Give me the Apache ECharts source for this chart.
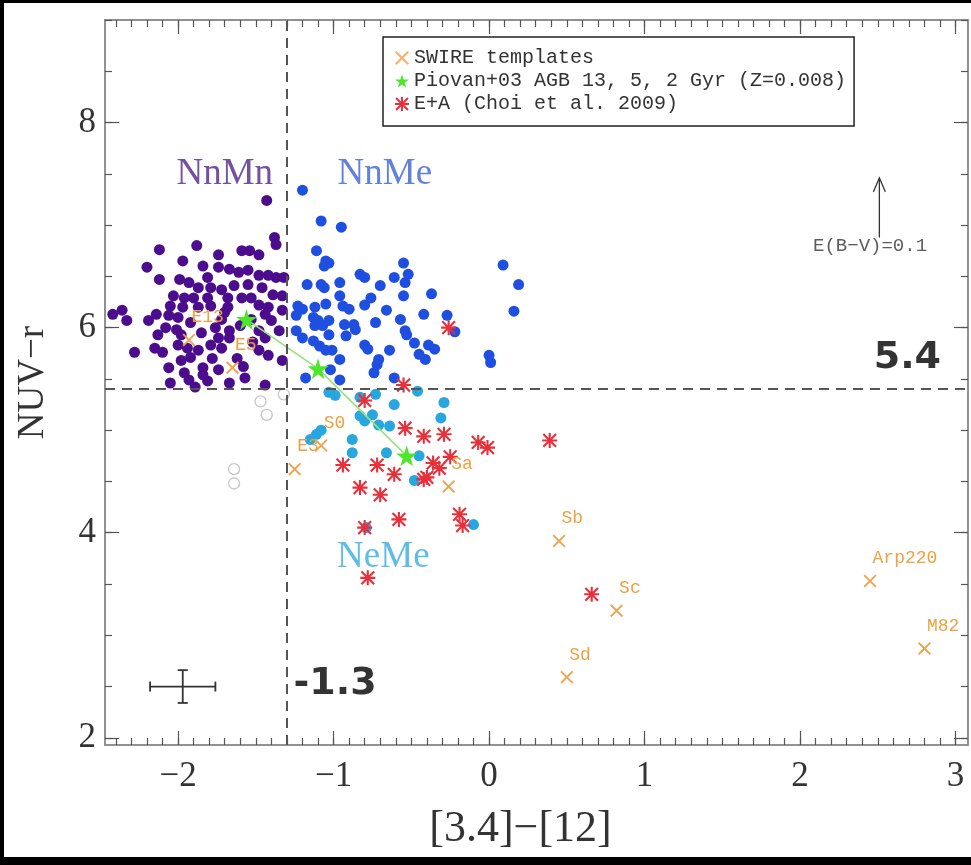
<!DOCTYPE html>
<html lang="en">
<head>
<meta charset="utf-8">
<title>NUV-r vs [3.4]-[12]</title>
<script src="https://cdn.jsdelivr.net/npm/echarts@6.0.0/dist/echarts.min.js"></script>
<style>
    html, body { margin: 0; padding: 0; background: #fff; }
    #wrap { position: relative; width: 971px; height: 865px; }
    #chart { position: absolute; left: 0; top: 0; width: 971px; height: 865px; }
    /* black frame of the scanned figure */
    #frame {
        position: absolute; left: 0; top: 0; width: 971px; height: 865px;
        box-sizing: border-box; pointer-events: none;
        border-left: 4px solid #000; border-top: 3px solid #000; border-bottom: 8px solid #000;
    }
</style>
</head>
<body>
<div id="wrap">
    <div id="chart"></div>
    <div id="frame"></div>
</div>
<script type="text/javascript">
// ---- data ----
// NnMn (purple)
var nnmn = [
    [-1.43,7.24],[-1.38,6.88],[-1.37,6.81],[-2.12,6.76],[-1.88,6.80],[-1.74,6.71],[-1.59,6.75],[-1.54,6.75],
    [-1.48,6.71],[-1.97,6.65],[-1.84,6.60],[-2.20,6.59],[-1.74,6.59],[-1.67,6.57],[-1.61,6.54],[-1.55,6.56],
    [-1.48,6.51],[-1.42,6.51],[-1.37,6.49],[-1.32,6.49],[-2.12,6.47],[-1.99,6.47],[-1.93,6.44],[-1.81,6.49],
    [-1.87,6.39],[-1.79,6.39],[-1.72,6.37],[-1.64,6.41],[-1.55,6.42],[-1.46,6.39],[-1.39,6.32],[-1.33,6.31],
    [-2.03,6.31],[-1.96,6.29],[-1.90,6.29],[-1.81,6.29],[-1.68,6.29],[-1.59,6.29],[-1.53,6.29],[-2.05,6.21],
    [-1.97,6.20],[-1.87,6.20],[-1.79,6.21],[-1.68,6.20],[-1.48,6.22],[-1.42,6.20],[-1.33,6.17],[-2.06,6.12],
    [-2.00,6.10],[-2.42,6.13],[-2.36,6.17],[-2.33,6.07],[-2.19,6.07],[-2.14,6.13],[-1.72,6.08],[-1.53,6.08],
    [-1.44,6.13],[-1.40,6.07],[-2.08,6.00],[-2.01,5.98],[-2.13,5.93],[-1.98,5.93],[-1.76,6.00],[-1.74,5.90],
    [-1.67,5.97],[-1.67,5.90],[-1.48,5.97],[-1.44,5.90],[-1.35,5.97],[-2.28,5.76],[-2.15,5.80],[-2.10,5.76],
    [-2.00,5.83],[-1.94,5.80],[-1.87,5.78],[-1.79,5.83],[-1.72,5.80],[-1.48,5.78],[-1.42,5.73],[-1.33,5.68],
    [-2.06,5.61],[-1.98,5.68],[-1.92,5.71],[-1.84,5.61],[-1.74,5.59],[-1.57,5.51],[-1.96,5.56],[-2.05,5.46],
    [-1.93,5.49],[-1.89,5.42],[-1.84,5.54],[-1.81,5.48],[-1.67,5.46],[-1.44,5.44],[-1.58,5.62],[-1.62,5.70],
    [-1.85,5.95],[-1.92,6.05],[-1.60,6.02],[-1.70,6.15],[-1.52,5.86],[-1.78,5.70]
];
// NnMe (blue)
var nnme = [
    [-1.20,7.34],[-1.08,7.04],[-0.95,6.98],[-1.11,6.75],[-1.05,6.65],[-1.03,6.63],[-1.06,6.60],[-0.83,6.52],
    [-0.80,6.49],[-0.55,6.63],[-0.52,6.52],[-0.61,6.49],[-0.54,6.44],[-1.17,6.42],[-1.08,6.42],[-1.06,6.39],
    [-0.96,6.44],[-0.70,6.41],[-0.37,6.33],[-0.55,6.31],[-0.96,6.31],[-0.76,6.29],[-0.80,6.22],[0.09,6.61],
    [0.19,6.42],[0.16,6.16],[-1.23,6.21],[-1.20,6.18],[-1.12,6.20],[-1.05,6.23],[-0.94,6.21],[-0.90,6.18],
    [-0.66,6.17],[-0.42,6.13],[-0.27,6.12],[-0.22,5.96],[-0.57,6.08],[-0.73,6.05],[-0.93,6.03],[-0.87,6.03],
    [-0.86,5.98],[-1.13,6.10],[-1.10,6.07],[-1.12,6.02],[-1.07,6.02],[-1.03,6.07],[-1.24,6.12],[-0.54,5.97],
    [-0.53,5.93],[-0.92,5.92],[-0.80,5.83],[-0.78,5.79],[-0.64,5.78],[-0.48,5.85],[-0.39,5.83],[-0.35,5.79],
    [-0.45,5.74],[-0.41,5.69],[-1.13,5.87],[-1.09,5.82],[-1.05,5.78],[-1.03,5.93],[-1.01,5.78],[-0.96,5.69],
    [-0.71,5.69],[-0.72,5.64],[-0.74,5.56],[0.00,5.73],[0.01,5.66],[-1.18,5.51],[-1.02,5.59],[-0.96,5.49],
    [-1.24,5.97],[-1.20,5.90],[-0.61,5.51]
];
// NeMe (light blue)
var neme = [
    [-1.03,5.37],[-0.99,5.34],[-0.83,5.32],[-0.73,5.35],[-0.61,5.25],[-0.46,5.38],[-0.29,5.27],[-0.31,5.12],
    [-0.83,5.14],[-0.75,5.15],[-0.80,5.09],[-0.71,5.05],[-0.64,5.04],[-0.88,4.91],[-0.88,4.78],[-0.66,4.78],
    [-0.45,4.75],[-0.48,4.51],[-1.11,4.96],[-1.15,4.91],[-1.08,5.00],[-0.10,4.08],[-0.79,4.05]
];
// open grey circles
var others = [[-1.47,5.28],[-1.43,5.15],[-1.32,5.35],[-1.64,4.62],[-1.64,4.48]];
// E+A (Choi et al. 2009)
var eaPoints = [
    [-0.26,6.00],[-0.55,5.44],[-0.80,5.29],[-0.54,5.02],[-0.42,4.94],[-0.29,4.96],[-0.07,4.88],[-0.01,4.83],
    [0.39,4.90],[-0.94,4.66],[-0.72,4.66],[-0.83,4.44],[-0.70,4.37],[-0.61,4.57],[-0.40,4.54],[-0.36,4.68],
    [-0.32,4.63],[-0.25,4.74],[-0.42,4.52],[-0.58,4.13],[-0.19,4.18],[-0.17,4.07],[-0.80,4.05],[-0.78,3.56],
    [0.66,3.40]
];
// SWIRE templates
var swireNames = ['E13', 'E5', 'E3', 'S0', 'Sa', 'Sb', 'Sc', 'Sd', 'Arp220', 'M82'];
var swireX = [-1.93, -1.65, -1.25, -1.08, -0.26, 0.45, 0.82, 0.50, 2.45, 2.80];
var swireY = [5.88, 5.61, 4.62, 4.85, 4.45, 3.92, 3.24, 2.59, 3.53, 2.87];
// Piovan+03 AGB tracks 13, 5, 2 Gyr
var piovan = [[-1.56,6.08],[-1.10,5.60],[-0.53,4.75]];
// cuts
var xCut = -1.3, yCut = 5.4;
// representative error bar [x, y, dx, dy]
var errBar = [-1.97, 2.50, 0.21, 0.16];
// reddening vector E(B-V)=0.1
var redVec = [[2.51,6.88],[2.51,7.46]];

var xMajor = [-2, -1, 0, 1, 2, 3];
var yMajor = [2, 4, 6, 8];
var xRange = [-2.47, 3.08], yRange = [1.93, 9.0];

var minorX = [], minorY = [];
for (var i = -24; i <= 30; i++) minorX.push(i / 10);
for (var j = 4; j <= 18; j++) minorY.push(j / 2);

var serif = 'Liberation Serif';
var mono = 'Liberation Mono';

var crossPath = 'path://M2 0 L10 8 L18 0 L20 2 L12 10 L20 18 L18 20 L10 12 L2 20 L0 18 L8 10 L0 2 Z';
var asterPath = 'path://M2.5 0.5 L10 8 L17.5 0.5 L19.5 2.5 L12 10 L19.5 17.5 L17.5 19.5 L10 12 L2.5 19.5 L0.5 17.5 L8 10 L0.5 2.5 Z M8.6 0 H11.4 V8.6 H20 V11.4 H11.4 V20 H8.6 V11.4 H0 V8.6 H8.6 Z';
var starPath = 'path://M50 0 L61 35 L98 35 L68 57 L79 91 L50 70 L21 91 L32 57 L2 35 L39 35 Z';

function minus(v) { return v < 0 ? '\u2212' + (-v) : String(v); }

var axisLine = { show: true, onZero: false, lineStyle: { color: '#8a8a8a', width: 1.5 } };

function xAx(pos, major, labels) {
    return {
        type: 'value', gridIndex: 0, position: pos,
        min: xRange[0], max: xRange[1],
        axisLine: axisLine, splitLine: { show: false },
        axisTick: { show: true, inside: true, length: major ? 14 : 7, customValues: major ? xMajor : minorX,
            lineStyle: { color: '#555', width: 1.2 } },
        axisLabel: labels ? { show: true, customValues: xMajor, formatter: minus, margin: 14,
            fontFamily: serif, fontSize: 35, color: '#333' } : { show: false },
        name: labels ? '[3.4]\u2212[12]' : '', nameLocation: 'middle', nameGap: 62,
        nameTextStyle: { fontFamily: serif, fontSize: 44, color: '#333', padding: [0, 32, 0, 0] }
    };
}
function yAx(pos, major, labels) {
    return {
        type: 'value', gridIndex: 0, position: pos,
        min: yRange[0], max: yRange[1],
        axisLine: axisLine, splitLine: { show: false },
        axisTick: { show: true, inside: true, length: major ? 14 : 7, customValues: major ? yMajor : minorY,
            lineStyle: { color: '#555', width: 1.2 } },
        axisLabel: labels ? { show: true, customValues: yMajor, margin: 9,
            fontFamily: serif, fontSize: 35, color: '#333' } : { show: false },
        name: labels ? 'NUV\u2212r' : '', nameLocation: 'middle', nameGap: 53, nameRotate: 90,
        nameTextStyle: { fontFamily: serif, fontSize: 37, color: '#333' }
    };
}

function textSeries(name, pt, color, size, family, weight) {
    return {
        name: name, type: 'scatter', symbolSize: 0, silent: true, z: 20,
        data: [{ value: pt, name: name }],
        label: { show: true, position: 'inside', formatter: '{b}', color: color,
            fontFamily: family, fontSize: size, fontWeight: weight || 'normal' }
    };
}

var swireData = swireNames.map(function (n, k) { return { name: n, value: [swireX[k], swireY[k]] }; });

var chart = echarts.init(document.getElementById('chart'), null, { renderer: 'canvas' });

var option = {
    animation: false,
    backgroundColor: '#fff',
    grid: { left: 105, right: 3, top: 20, bottom: 120, containLabel: false },
    xAxis: [xAx('bottom', true, true), xAx('bottom', false, false), xAx('top', true, false), xAx('top', false, false)],
    yAxis: [yAx('left', true, true), yAx('left', false, false), yAx('right', true, false), yAx('right', false, false)],
    legend: {
        left: 383, top: 37, orient: 'vertical',
        padding: [11, 8, 12, 12], itemGap: 3, itemWidth: 14, itemHeight: 14,
        borderColor: '#222', borderWidth: 1.5, backgroundColor: '#fff',
        textStyle: { fontFamily: mono, fontSize: 20, color: '#333' },
        data: [
            { name: 'SWIRE templates', icon: crossPath, itemStyle: { color: '#f6b070' } },
            { name: 'Piovan+03 AGB 13, 5, 2 Gyr (Z=0.008)', icon: starPath, itemStyle: { color: '#4ee62a' } },
            { name: 'E+A (Choi et al. 2009)', icon: asterPath, itemStyle: { color: '#e8303a' } }
        ]
    },
    series: [
        {
            name: 'NnMn', type: 'scatter', data: nnmn, symbol: 'circle', symbolSize: 11,
            itemStyle: { color: '#4b0d8e', opacity: 1 },
            markLine: {
                silent: true, symbol: 'none', label: { show: false },
                lineStyle: { color: '#555', width: 2, type: [10, 7] },
                data: [{ xAxis: xCut }, { yAxis: yCut }]
            }
        },
        { name: 'NnMe', type: 'scatter', data: nnme, symbol: 'circle', symbolSize: 11,
            itemStyle: { color: '#1f4fe0', opacity: 1 } },
        { name: 'NeMe', type: 'scatter', data: neme, symbol: 'circle', symbolSize: 11,
            itemStyle: { color: '#27a6df', opacity: 1 } },
        { name: 'other', type: 'scatter', data: others, symbol: 'circle', symbolSize: 11,
            itemStyle: { color: 'rgba(255,255,255,0)', borderColor: '#b8b8b8', borderWidth: 1.3 } },
        { name: 'Piovan track', type: 'line', data: piovan, symbol: 'none', silent: true, z: 3,
            lineStyle: { color: '#98e27a', width: 1.6 } },
        { name: 'E+A (Choi et al. 2009)', type: 'scatter', data: eaPoints, symbol: asterPath, symbolSize: 15, z: 4,
            itemStyle: { color: '#e8303a', opacity: 1 } },
        {
            name: 'SWIRE templates', type: 'scatter', data: swireData, symbol: crossPath, symbolSize: 13, z: 5,
            itemStyle: { color: '#f2a24e', opacity: 1 },
            label: { show: true, formatter: '{b}', position: [9, -25], color: '#f0a040',
                fontFamily: mono, fontSize: 18 }
        },
        { name: 'Piovan+03 AGB 13, 5, 2 Gyr (Z=0.008)', type: 'scatter', data: piovan, symbol: starPath,
            symbolSize: 21, z: 6, itemStyle: { color: '#4ee62a', opacity: 1 } },
        {
            name: 'errbar', type: 'custom', silent: true, z: 6, data: [errBar],
            renderItem: function (params, api) {
                var x = api.value(0), y = api.value(1), dx = api.value(2), dy = api.value(3);
                var l = api.coord([x - dx, y]), r = api.coord([x + dx, y]);
                var t = api.coord([x, y + dy]), b = api.coord([x, y - dy]);
                var st = { stroke: '#333', lineWidth: 1.8 };
                var cap = 5;
                return { type: 'group', children: [
                    { type: 'line', shape: { x1: l[0], y1: l[1], x2: r[0], y2: r[1] }, style: st },
                    { type: 'line', shape: { x1: t[0], y1: t[1], x2: b[0], y2: b[1] }, style: st },
                    { type: 'line', shape: { x1: l[0], y1: l[1] - cap, x2: l[0], y2: l[1] + cap }, style: st },
                    { type: 'line', shape: { x1: r[0], y1: r[1] - cap, x2: r[0], y2: r[1] + cap }, style: st },
                    { type: 'line', shape: { x1: t[0] - cap, y1: t[1], x2: t[0] + cap, y2: t[1] }, style: st },
                    { type: 'line', shape: { x1: b[0] - cap, y1: b[1], x2: b[0] + cap, y2: b[1] }, style: st }
                ] };
            }
        },
        {
            name: 'reddening', type: 'line', silent: true, z: 6,
            data: [
                { value: redVec[0], symbol: 'none' },
                { value: redVec[1], symbol: 'path://M0 12 L6 0 L12 12', symbolSize: [12, 14], symbolOffset: [0, '50%'] }
            ],
            lineStyle: { color: '#333', width: 1.3 },
            itemStyle: { color: 'rgba(0,0,0,0)', borderColor: '#333', borderWidth: 1.3 }
        },
        textSeries('NnMn', [-1.70, 7.50], '#50268a', 37, serif),
        textSeries('NnMe', [-0.67, 7.50], '#3a62d6', 37, serif),
        textSeries('NeMe', [-0.68, 3.76], '#36abe0', 37, serif),
        textSeries('E(B\u2212V)=0.1', [2.45, 6.80], '#333', 19, mono),
        textSeries('5.4', [2.69, 5.70], '#000', 38, 'DejaVu Sans', 'bold'),
        textSeries('-1.3', [-0.99, 2.52], '#000', 38, 'DejaVu Sans', 'bold')
    ]
};
chart.setOption(option);
</script>
</body>
</html>
